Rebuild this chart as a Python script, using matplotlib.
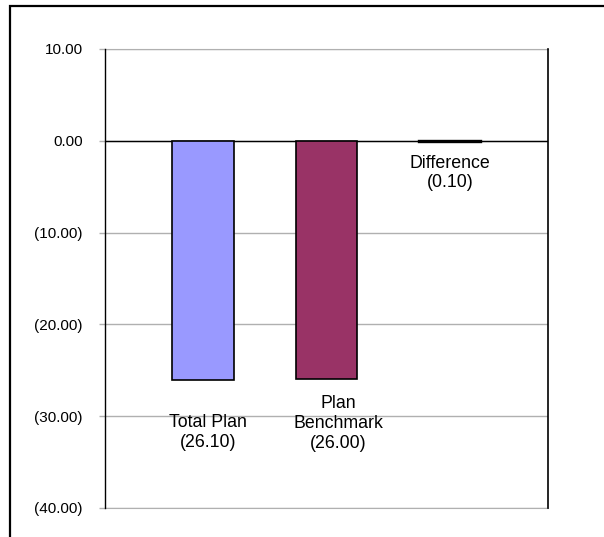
import matplotlib
matplotlib.use("Agg")
import matplotlib.pyplot as plt
import matplotlib.patches as patches
from matplotlib.ticker import FuncFormatter

plt.rcParams['font.family'] = ['Liberation Sans', 'DejaVu Sans']

categories = ["Total Plan", "Plan\nBenchmark", "Difference"]
values = [-26.10, -26.00, -0.10]
colors = ["#9999FF", "#993366", "#222222"]
# label offsets from bar end (points)
label_dx = [3.6, 8.6, 0]
label_dy = [-37.5, -31.5, -22.5]

yticks = [10, 0, -10, -20, -30, -40]


def fmt(v, pos=None):
    if v < 0:
        return "({:.2f})".format(-v)
    return "{:.2f}".format(v)


fig = plt.figure(figsize=(6.04, 5.37), dpi=100)
ax = fig.add_axes([105/604, 1-508/537, (548-105)/604, (508-49)/537])

x = range(len(values))
ax.bar(x, values, width=0.5, color=colors, edgecolor="black",
       linewidth=[1.2, 1.2, 1.7], zorder=3)

for i, v in enumerate(values):
    ax.annotate(categories[i] + "\n" + fmt(v), xy=(i, v), xytext=(label_dx[i], label_dy[i]),
                textcoords="offset points", ha="center", va="center", fontsize=12.8,
                linespacing=1.22, zorder=4)

ax.set_xlim(-0.79, 2.79)
ax.set_ylim(-40, 10)
ax.set_yticks(yticks)
ax.yaxis.set_major_formatter(FuncFormatter(fmt))
ax.set_xticks([])
ax.grid(axis="y", color="#b0b0b0", linewidth=1, zorder=0)
ax.axhline(0, color="black", linewidth=1, zorder=2)
ax.tick_params(axis="y", direction="out", length=4, width=1, color="#b0b0b0",
               pad=12, labelsize=11, labelcolor="black")
ax.spines["top"].set_color("#b0b0b0")
ax.spines["bottom"].set_color("#b0b0b0")
ax.spines["left"].set_color("black")
ax.spines["right"].set_color("black")
ax.spines["left"].set_linewidth(1)
ax.spines["right"].set_linewidth(1.2)
ax.spines["left"].set_zorder(5)
ax.spines["right"].set_zorder(5)

# outer chart frame
frame = patches.Rectangle((9.5/604, -0.1), 1.2, 1 - 6/537 + 0.1, transform=fig.transFigure,
                          fill=False, edgecolor="black", linewidth=1.6, clip_on=False)
fig.add_artist(frame)

fig.savefig("out.png", dpi=100)
